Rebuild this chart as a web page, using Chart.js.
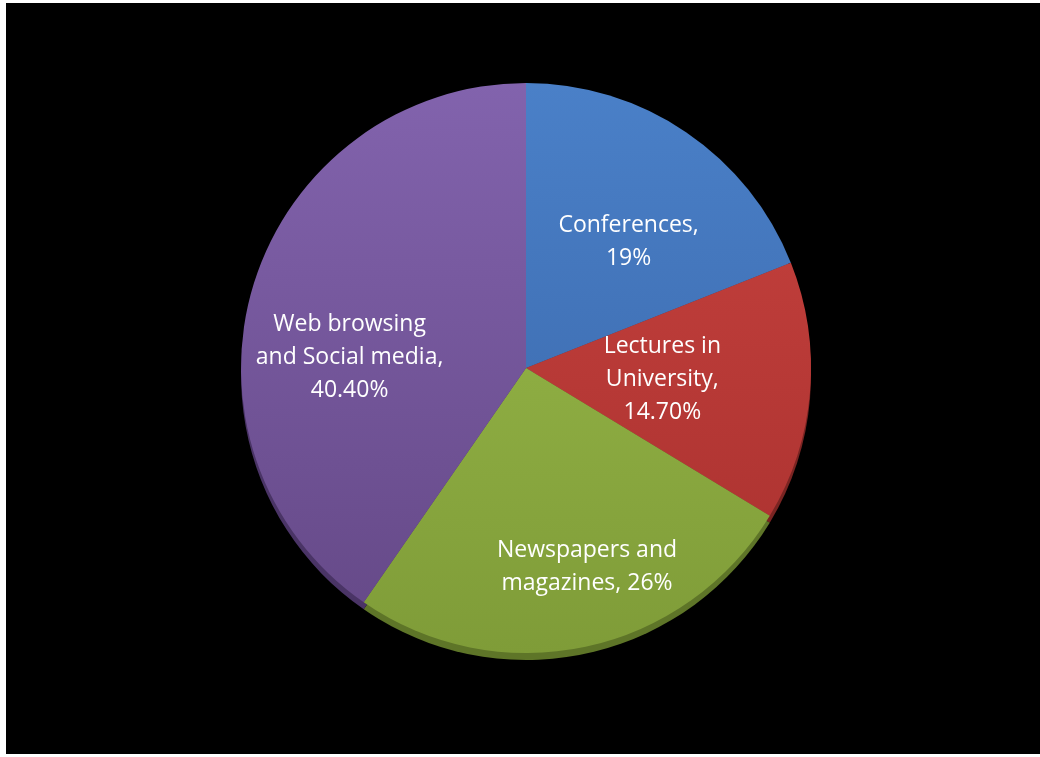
<!DOCTYPE html>
<html>
<head>
<meta charset="utf-8">
<script src="https://cdn.jsdelivr.net/npm/chart.js@4/dist/chart.umd.min.js"></script>
<style>
  html, body { margin: 0; padding: 0; background: #fff; }
  #box {
    position: absolute;
    left: 6px;
    top: 3px;
    width: 1034px;
    height: 751px;
    background: #000;
  }
</style>
</head>
<body>
<div id="box"><canvas id="chart"></canvas></div>
<script>
// data
var categories = ['Conferences', 'Lectures in University', 'Newspapers and magazines', 'Web browsing and Social media'];
var shares = [19, 14.7, 26, 40.4];

// how each data label is wrapped ({v} = formatted value)
var labelLines = [
  ['Conferences,', '{v}'],
  ['Lectures in', 'University,', '{v}'],
  ['Newspapers and', 'magazines, {v}'],
  ['Web browsing', 'and Social media,', '{v}']
];
// where the label sits: fraction of radius, and degrees shifted from the slice middle
var labelRadius = [0.57, 0.48, 0.73, 0.62];
var labelShift = [5, 0, -5, -14];

// top / bottom shade for each slice
var colorsTop = ['#4a80c8', '#c8433f', '#9cbd4c', '#8263ad'];
var colorsBottom = ['#3864a6', '#a8302e', '#7f9c38', '#644886'];
var rimColors = ['#2a4a7a', '#7a2422', '#5e7528', '#4a3466'];

function fmt(v) {
  return Number.isInteger(v) ? v + '%' : v.toFixed(2) + '%';
}

function shade(ctx) {
  var chart = ctx.chart;
  var area = chart.chartArea;
  var i = ctx.dataIndex;
  if (!area) return colorsTop[i];
  var g = chart.ctx.createLinearGradient(0, area.top, 0, area.bottom);
  g.addColorStop(0, colorsTop[i]);
  g.addColorStop(1, colorsBottom[i]);
  return g;
}

// darker copy of the pie a few px lower, for the thick bottom edge
var rimPlugin = {
  id: 'rim',
  beforeDatasetsDraw: function(chart) {
    var ctx = chart.ctx;
    var arcs = chart.getDatasetMeta(0).data;
    ctx.save();
    arcs.forEach(function(arc, i) {
      var p = arc.getProps(['x', 'y', 'startAngle', 'endAngle', 'outerRadius'], true);
      ctx.beginPath();
      ctx.moveTo(p.x, p.y + 7);
      ctx.arc(p.x, p.y + 7, p.outerRadius, p.startAngle, p.endAngle);
      ctx.closePath();
      ctx.fillStyle = rimColors[i];
      ctx.fill();
    });
    ctx.restore();
  }
};

var labelPlugin = {
  id: 'sliceLabels',
  afterDatasetsDraw: function(chart) {
    var ctx = chart.ctx;
    var arcs = chart.getDatasetMeta(0).data;
    var values = chart.data.datasets[0].data;
    ctx.save();
    ctx.font = '23px "Open Sans", sans-serif';
    ctx.fillStyle = '#ffffff';
    ctx.textAlign = 'center';
    ctx.textBaseline = 'middle';
    arcs.forEach(function(arc, i) {
      var p = arc.getProps(['x', 'y', 'startAngle', 'endAngle', 'outerRadius'], true);
      var a = (p.startAngle + p.endAngle) / 2 + labelShift[i] * Math.PI / 180;
      var r = p.outerRadius * labelRadius[i];
      var cx = p.x + Math.cos(a) * r;
      var cy = p.y + Math.sin(a) * r;
      var lines = labelLines[i].map(function(s) { return s.replace('{v}', fmt(values[i])); });
      var lh = 33;
      var y0 = cy - (lines.length - 1) * lh / 2;
      lines.forEach(function(s, k) {
        ctx.fillText(s, cx, y0 + k * lh);
      });
    });
    ctx.restore();
  }
};

new Chart(document.getElementById('chart'), {
  type: 'pie',
  data: {
    labels: categories,
    datasets: [{
      data: shares,
      backgroundColor: shade,
      borderWidth: 0
    }]
  },
  options: {
    responsive: true,
    maintainAspectRatio: false,
    animation: false,
    layout: { padding: { left: 6, right: 0, top: 80, bottom: 101 } },
    plugins: {
      legend: { display: false },
      tooltip: { enabled: false }
    }
  },
  plugins: [rimPlugin, labelPlugin]
});
</script>
</body>
</html>
